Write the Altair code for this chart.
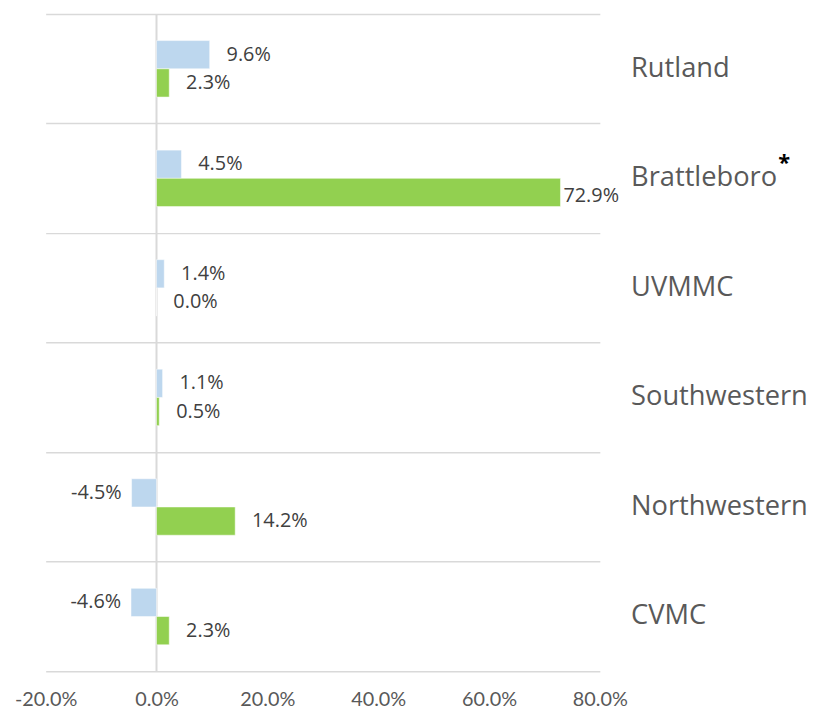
import altair as alt
import pandas as pd

categories = ["Rutland", "Brattleboro", "UVMMC", "Southwestern", "Northwestern", "CVMC"]
series_names = ["Series A", "Series B"]
series_a = [0.096, 0.045, 0.014, 0.011, -0.045, -0.046]
series_b = [0.023, 0.729, 0.000, 0.005, 0.142, 0.023]
x_ticks = [-0.2, 0.0, 0.2, 0.4, 0.6, 0.8]

rows = []
for c, a, b in zip(categories, series_a, series_b):
    rows.append({"cat": c, "series": series_names[0], "value": a})
    rows.append({"cat": c, "series": series_names[1], "value": b})
df = pd.DataFrame(rows)

W, H = 559, 663
GRID = "#D9D9D9"
LABEL_FONT = "Open Sans"
TICK_FONT = "Liberation Sans Narrow, Lato, sans-serif"
CAT_PAD = 31

y_enc = alt.Y("cat:N", sort=categories,
              scale=alt.Scale(paddingInner=0, paddingOuter=0),
              axis=alt.Axis(orient="right", grid=True, gridColor=GRID, gridWidth=1.5,
                            bandPosition=0, ticks=False, domain=False, labelLimit=0,
                            labelFont=LABEL_FONT, labelFontSize=27.5, labelColor="#595959",
                            labelPadding=CAT_PAD, title=None))
yoff_enc = alt.YOffset("series:N", sort=series_names,
                       scale=alt.Scale(paddingInner=0, paddingOuter=0.94))
x_enc = alt.X("value:Q",
              scale=alt.Scale(domain=[-0.2, 0.8], nice=False, zero=False),
              axis=alt.Axis(values=x_ticks, grid=False, ticks=False,
                            labelExpr="replace(format(datum.value, '.1%'), '\u2212', '-')",
                            labelFlush=False,
                            domain=True, domainColor=GRID, domainWidth=1.5,
                            labelFont=TICK_FONT, labelFontSize=20, labelColor="#595959",
                            labelPadding=19, title=None))

base = alt.Chart(df).transform_calculate(
    lbl="replace(format(datum.value, '.1%'), '\u2212', '-')")

zero = alt.Chart(pd.DataFrame({"v": [0.0]})).mark_rule(color=GRID, strokeWidth=2).encode(
    x=alt.X("v:Q", scale=alt.Scale(domain=[-0.2, 0.8], nice=False, zero=False)))

bars = base.mark_bar(stroke="white", strokeWidth=0.5).encode(
    x=x_enc, y=y_enc, yOffset=yoff_enc,
    color=alt.Color("series:N", sort=series_names,
                    scale=alt.Scale(domain=series_names, range=["#BDD7EE", "#92D050"]),
                    legend=None))

txt_kw = dict(font=LABEL_FONT, fontSize=20, color="#404040", baseline="middle")
y_plain = alt.Y("cat:N", sort=categories)
pos_txt = base.transform_filter("datum.value >= 0 && datum.value < 0.6").mark_text(
    align="left", dx=17, **txt_kw).encode(
    x="value:Q", y=y_plain, yOffset=yoff_enc, text="lbl:N")
big_txt = base.transform_filter("datum.value >= 0.6").mark_text(
    align="left", dx=3, dy=4, **txt_kw).encode(
    x="value:Q", y=y_plain, yOffset=yoff_enc, text="lbl:N")
neg_txt = base.transform_filter("datum.value < 0").mark_text(
    align="right", dx=-10, **txt_kw).encode(
    x="value:Q", y=y_plain, yOffset=yoff_enc, text="lbl:N")

star = alt.Chart(pd.DataFrame({"cat": ["Brattleboro"], "t": ["*"]})).mark_text(
    align="left", baseline="middle", font=LABEL_FONT, fontSize=22, fontWeight="bold",
    color="#000000", dy=-15).encode(
    x=alt.value(W + CAT_PAD + 149), y=y_plain, text="t:N")

chart = alt.layer(zero, bars, pos_txt, big_txt, neg_txt, star).properties(
    width=W, height=H,
    autosize=alt.AutoSizeParams(type="none"),
    padding={"left": 38, "top": 3, "right": 211, "bottom": 42},
).configure_view(stroke=None)

chart.save("out.html", embed_options={"renderer": "svg", "actions": False})
